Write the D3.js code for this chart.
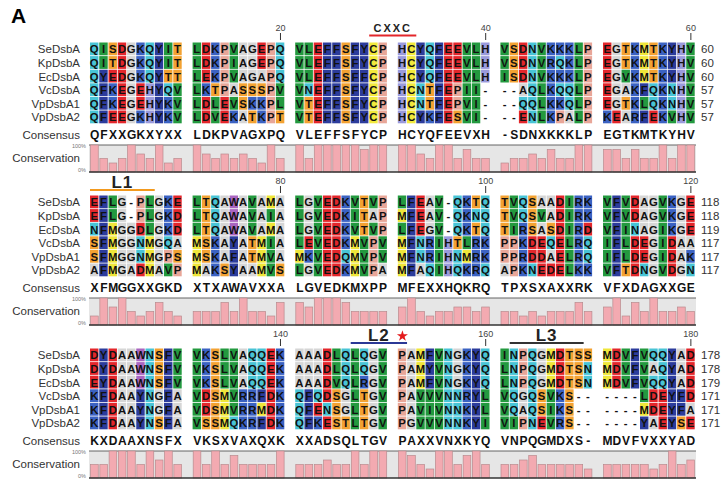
<!DOCTYPE html>
<html>
<head>
<meta charset="utf-8">
<script src="https://cdn.jsdelivr.net/npm/d3@7"></script>
<style>
  body { margin: 0; background: #fff; }
  svg { font-family: "Liberation Sans", Arial, sans-serif; }
  .name { font-size: 11.5px; fill: #333; }
  .res { font-size: 11.3px; font-weight: bold; fill: #111; }
  .cons { font-size: 12px; font-weight: bold; fill: #111; }
  .pos { font-size: 11.5px; fill: #333; }
  .tick { font-size: 9px; fill: #444; }
  .pct { font-size: 5.5px; fill: #777; }
</style>
</head>
<body>
<svg id="chart"></svg>
<script>
// sequence names (one row each)
var names = ["SeDsbA", "KpDsbA", "EcDsbA", "VcDsbA", "VpDsbA1", "VpDsbA2"];

// alignment, residues 1-60
var block1 = [
  "QISDGKQYIT LDKPVAGEPQ VLEFFSFYCP HCYQFEEVLH VSDNVKKKLP EGTKMTKYHV",
  "QITDGKQYIT LDKPIAGEPQ VLEFFSFYCP HCYQFEEVLH VSDNVRQKLP EGTKMTKYHV",
  "QYEDGKQYTT LEKPVAGAPQ VLEFFSFFCP HCYQFEEVLH ISDNVKKKLP EGVKMTKYHV",
  "QFKEGEHYQV LKTPASSSPV VNEFFSFYCP HCNTFEPII- --AQLKQQLP EGAKFQKNHV",
  "QFKEGEHYKV LDLEVSKKPL VTEFFSFYCP HCNTFEPVI- --QQLKKQLP EGTKLQKNHV",
  "QFEEGKHYKV LDVEKATKPT VTEFFSFYCP HCYKFESVI- --ENLKPALP KEARFEKVHV"
];
// residues 61-120
var block2 = [
  "EFLG-PLGKE LTQAWAVAMA LGVEDKVTVP LFEAV-QKTQ TVQSAADIRK VFVDAGVKGE",
  "EFLG-PLGKD LTQAWAVAIA LGVEDKITAP MFEAV-QKNQ TVQSVADIRK VFVDAGVKGE",
  "NFMGGDLGKD LTQAWAVAMA LGVEDKVTVP LFEGV-QKTQ TIRSASDIRD VFINAGIKGE",
  "SFMGGNMGQA MSKAYATMIA LEVEDKMVPV MFNRIHTLRK PPKDEQELRQ IFLDEGIDAA",
  "SFMGGNMGPS MSKAFATMVA MKVEDQMVPV MFNRIHNMRK PPRDDAELRQ IFLDEGIDAK",
  "AFMGADMAVP MAKSYAAMVS LGVEDKMVPA MFAQIHQKRQ APKNEDELKK VFTDNGVDGN"
];
// residues 121-180
var block3 = [
  "DYDAAWNSFV VKSLVAQQEK AAADLQLQGV PAMFVNGKYQ INPQGMDTSS MDVFVQQYAD",
  "DYDAAWNSFV VKSLVAQQEK AAADLQLQGV PAMYVNGKYQ LNPQGMDTSN MDVFVAQYAD",
  "EYDAAWNSFV VKSLVAQQEK AAADVQLRGV PAMFVNGKYQ LNPQGMDTSN MDVFVQQYAD",
  "KFDAAYNGFA VDSMVRRFDK QFQDSGLTGV PAVVVNNRYL VQGQSVKS-- ----LDEYFD",
  "KFDAAYNGFA VDSMVRRMDK QFENSGLTGV PAVIVNNKYL VQAQSIKS-- ----MDEYFA",
  "KFDAAYNSFA VSSMQKRFDK QFKESTLTGV PGVVVNNKYI VIPNEVRS-- ----YAEYSE"
];

var consensus1 = "QFXXGKXYXX LDKPVAGXPQ VLEFFSFYCP HCYQFEEVXH -SDNXKKKLP EGTKMTKYHV";
var consensus2 = "XFMGGXXGKD XTXAWAVXXA LGVEDKMXPP MFEXXHQKRQ TPXSXAXXRK VFXDAGXXGE";
var consensus3 = "KXDAAXNSFX VKSXVAXQXK XXADSQLTGV PAXXVNXKYQ VNPQGMDXS- MDVFVXXYAD";

// conservation bar heights, in sequences out of 6
var conservation1 = [6,3,2,3,6,4,3,6,2,3, 6,4,3,4,3,4,3,2,6,3, 6,3,6,6,6,6,6,5,6,6,
                     6,6,4,3,6,6,3,5,3,3, 2,3,3,4,3,5,3,3,6,6, 5,5,3,5,3,3,6,3,6,6];
var conservation2 = [2,6,4,6,3,2,3,5,3,2, 3,3,3,5,3,6,3,3,2,5, 5,4,6,6,6,5,3,3,3,3,
                     4,6,3,2,3,3,4,4,3,4, 3,3,2,3,2,3,3,3,5,3, 4,6,2,5,3,6,3,3,4,3];
var conservation3 = [3,3,6,6,6,3,6,4,6,3, 6,3,6,3,5,3,3,3,3,6, 3,3,3,4,3,3,6,3,6,6,
                     6,5,3,2,6,6,3,5,6,3, 3,3,4,5,3,3,3,3,3,2, 3,3,3,3,3,2,3,6,3,4];

var ends1 = [60, 60, 60, 57, 57, 57],
    ends2 = [118, 118, 119, 117, 117, 117],
    ends3 = [178, 178, 179, 171, 171, 171];

var rulerTicks = [[20, 40, 60], [80, 100, 120], [140, 160, 180]];

// feature marks above the alignment: label, first and last residue
var features = [
  {block: 0, label: "CXXC", from: 29, to: 32, color: "#e3262b"},
  {block: 1, label: "L1", from: 61, to: 67, color: "#f39a1e"},
  {block: 2, label: "L2", from: 147, to: 151, color: "#2b3896"},
  {block: 2, label: "L3", from: 162, to: 169, color: "#333333"}
];
var starResidue = 151;

var blocks = [
  {seqs: block1, consensus: consensus1, cons: conservation1, ends: ends1},
  {seqs: block2, consensus: consensus2, cons: conservation2, ends: ends2},
  {seqs: block3, consensus: consensus3, cons: conservation3, ends: ends3}
];

var colors = {
  A: "#d6d6d6", G: "#d6d6d6",
  C: "#f2e93c", M: "#efe63a",
  D: "#e3262b", E: "#e3262b",
  F: "#2c3c9c", Y: "#2c3c9c",
  W: "#a965c0",
  H: "#9a9adc",
  K: "#3b62c2", R: "#3b62c2",
  N: "#48c4d6", Q: "#48c4d6",
  S: "#f3a232", T: "#f3a232",
  P: "#e8a698",
  I: "#23993f", L: "#23993f", V: "#23993f"
};

var width = 721, height = 481;

var svg = d3.select("#chart")
    .attr("width", width)
    .attr("height", height);

// groups of ten residues, then one column inside a group
var groupX = d3.scaleBand().domain(d3.range(6)).range([90, 695.5]).paddingInner(0.0984);
var inGroup = d3.scaleLinear().domain([0, 10]).range([0, groupX.bandwidth()]);
var cw = inGroup(1) - inGroup(0);
function colX(i) { return groupX(Math.floor(i / 10)) + inGroup(i % 10); }

var rowY = d3.scaleBand().domain(names).range([42.5, 124.1]);
var blockY = d3.scaleLinear().domain([0, 1]).range([0, 153]);
var barY = d3.scaleLinear().domain([0, 6]).range([172, 145]);

svg.append("text")
    .attr("x", 11)
    .attr("y", 23)
    .style("font-size", "21px")
    .style("font-weight", "bold")
    .text("A");

blocks.forEach(function(b, bi) {
  var g = svg.append("g")
      .attr("transform", "translate(0," + blockY(bi) + ")");

  // ruler
  var ticks = g.selectAll(".rtick")
      .data(rulerTicks[bi])
    .enter().append("g")
      .attr("transform", function(d) { return "translate(" + (colX(d - 1 - bi * 60) + cw / 2) + ",0)"; });
  ticks.append("text")
      .attr("class", "tick")
      .attr("y", 28)
      .attr("dy", ".35em")
      .attr("text-anchor", "middle")
      .text(String);
  ticks.append("line")
      .attr("y1", 33).attr("y2", 40)
      .style("stroke", "#333").style("stroke-width", 1);

  // names and end positions
  g.selectAll(".name")
      .data(names)
    .enter().append("text")
      .attr("class", "name")
      .attr("x", 80)
      .attr("y", function(d) { return rowY(d) + rowY.bandwidth() / 2; })
      .attr("dy", ".35em")
      .attr("text-anchor", "end")
      .text(String);

  g.selectAll(".pos")
      .data(b.ends)
    .enter().append("text")
      .attr("class", "pos")
      .attr("x", 701)
      .attr("y", function(d, i) { return rowY(names[i]) + rowY.bandwidth() / 2; })
      .attr("dy", ".35em")
      .text(String);

  // residue cells
  b.seqs.forEach(function(s, ri) {
    var res = s.replace(/ /g, "").split("");
    var row = g.append("g")
        .attr("transform", "translate(0," + rowY(names[ri]) + ")");
    row.selectAll("rect")
        .data(res)
      .enter().append("rect")
        .attr("x", function(d, i) { return colX(i); })
        .attr("width", cw - 0.8)
        .attr("height", rowY.bandwidth() - 0.8)
        .style("fill", function(d) { return colors[d] || "none"; });
    row.selectAll("text")
        .data(res)
      .enter().append("text")
        .attr("class", "res")
        .attr("x", function(d, i) { return colX(i) + cw / 2 - 0.4; })
        .attr("y", rowY.bandwidth() / 2)
        .attr("dy", ".36em")
        .attr("text-anchor", "middle")
        .text(String);
  });

  // consensus
  g.append("text")
      .attr("class", "name")
      .attr("x", 80)
      .attr("y", 135)
      .attr("dy", ".35em")
      .attr("text-anchor", "end")
      .text("Consensus");
  g.selectAll(".cons")
      .data(b.consensus.replace(/ /g, "").split(""))
    .enter().append("text")
      .attr("class", "cons")
      .attr("x", function(d, i) { return colX(i) + cw / 2; })
      .attr("y", 135)
      .attr("dy", ".36em")
      .attr("text-anchor", "middle")
      .text(String);

  // conservation
  g.append("text")
      .attr("class", "name")
      .attr("x", 80)
      .attr("y", 158)
      .attr("dy", ".35em")
      .attr("text-anchor", "end")
      .text("Conservation");
  g.append("text")
      .attr("class", "pct")
      .attr("x", 86)
      .attr("y", 148)
      .attr("text-anchor", "end")
      .text("100%");
  g.append("text")
      .attr("class", "pct")
      .attr("x", 86)
      .attr("y", 172)
      .attr("text-anchor", "end")
      .text("0%");

  g.append("rect")
      .attr("x", 89)
      .attr("y", barY(6))
      .attr("width", 607)
      .attr("height", barY(0) - barY(6))
      .style("fill", "#e6e6e6");
  g.append("line")
      .attr("x1", 89).attr("x2", 696)
      .attr("y1", barY(6)).attr("y2", barY(6))
      .style("stroke", "#555").style("stroke-width", 0.9);

  g.selectAll(".bar")
      .data(b.cons)
    .enter().append("rect")
      .attr("class", "bar")
      .attr("x", function(d, i) { return colX(i) + 0.6; })
      .attr("y", function(d) { return barY(d); })
      .attr("width", cw - 1.6)
      .attr("height", function(d) { return barY(0) - barY(d); })
      .style("fill", "#f3aab1")
      .style("stroke", "#b98a8e")
      .style("stroke-width", 0.7);

  g.append("line")
      .attr("x1", 89).attr("x2", 696)
      .attr("y1", barY(0)).attr("y2", barY(0))
      .style("stroke", "#333").style("stroke-width", 1.5);

  // features
  features.filter(function(f) { return f.block === bi; }).forEach(function(f) {
    var x1 = colX(f.from - 1 - bi * 60),
        x2 = colX(f.to - 1 - bi * 60) + cw,
        small = f.label === "CXXC";
    g.append("line")
        .attr("x1", x1).attr("x2", x2)
        .attr("y1", small ? 35.5 : 37).attr("y2", small ? 35.5 : 37)
        .style("stroke", f.color)
        .style("stroke-width", small ? 2 : 2.2);
    g.append("text")
        .attr("x", (x1 + x2) / 2)
        .attr("y", small ? 28 : 29)
        .attr("dy", ".36em")
        .attr("text-anchor", "middle")
        .style("font-size", small ? "11px" : "17px")
        .style("font-weight", "bold")
        .style("letter-spacing", small ? "2px" : "1px")
        .style("fill", "#222")
        .text(f.label);
  });

  if (bi === 2) {
    g.append("path")
        .attr("d", d3.symbol().type(d3.symbolStar).size(38)())
        .attr("transform", "translate(" + (colX(starResidue - 1 - 120) + cw / 2) + ",30)")
        .style("fill", "#e41a1c");
  }
});
</script>
</body>
</html>
